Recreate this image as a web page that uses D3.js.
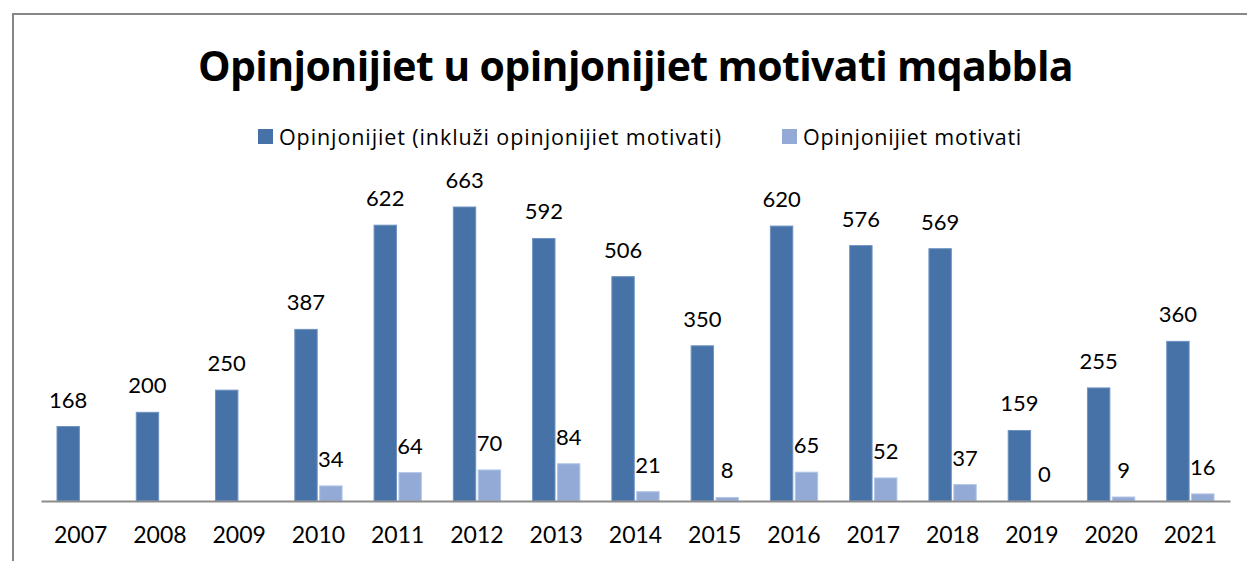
<!DOCTYPE html>
<html>
<head>
<meta charset="utf-8">
<script src="https://cdn.jsdelivr.net/npm/d3@7"></script>
<style>
  body { margin: 0; background: #fff; }
  text { font-family: Lato, "Open Sans", sans-serif; fill: #000; }
</style>
</head>
<body>
<div id="chart"></div>
<script>

// data
var years = ['2007','2008','2009','2010','2011','2012','2013','2014','2015','2016','2017','2018','2019','2020','2021'];
var opinjonijiet = [168, 200, 250, 387, 622, 663, 592, 506, 350, 620, 576, 569, 159, 255, 360];
var motivati = [null, null, null, 34, 64, 70, 84, 21, 8, 65, 52, 37, 0, 9, 16];
var seriesNames = ['Opinjonijiet (inkluži opinjonijiet motivati)', 'Opinjonijiet motivati'];
var seriesColors = ['#4672a8', '#94aad6'];
var edgeColors = ['#6f93c2', '#b3c6e6'];
var title = 'Opinjonijiet u opinjonijiet motivati mqabbla';

var svgWidth = 1247;
var svgHeight = 561;

var svg = d3.select('#chart')
            .append('svg')
            .attr('width', svgWidth)
            .attr('height', svgHeight);

// stretch letter spacing so a text ends up about as wide as in the picture
function fitWidth(sel, target) {
    sel.each(function () {
        var node = this;
        var w = node.getComputedTextLength();
        var n = node.textContent.length;
        d3.select(node).style('letter-spacing', ((target - w) / n) + 'px');
    });
}

// outer frame of the chart area (runs off the right and bottom)
svg.append('rect')
   .attr('x', 13)
   .attr('y', 14)
   .attr('width', 1260)
   .attr('height', 600)
   .attr('fill', 'none')
   .attr('stroke', '#878787')
   .attr('stroke-width', 2);

// scales
var x = d3.scaleBand()
          .domain(years)
          .range([41, 1230])
          .paddingInner(0)
          .paddingOuter(0);

var y = d3.scaleLinear()
          .domain([0, 700])
          .range([501, 190.6]);

var groupInner = d3.scaleBand()
          .domain([0, 1])
          .range([16, x.bandwidth() - 16])
          .paddingInner(0.1);

// rows for every bar
var rows = [];
years.forEach(function (yr, i) {
    rows.push({year: yr, s: 0, v: opinjonijiet[i]});
    rows.push({year: yr, s: 1, v: motivati[i]});
});
rows = rows.filter(function (d) { return d.v !== null; });

svg.selectAll('rect.bar')
   .data(rows)
   .enter()
   .append('rect')
   .attr('class', 'bar')
   .attr('x', function (d) { return x(d.year) + groupInner(d.s); })
   .attr('y', function (d) { return y(d.v); })
   .attr('width', groupInner.bandwidth())
   .attr('height', function (d) { return y(0) - y(d.v); })
   .attr('fill', function (d) { return seriesColors[d.s]; })
   .attr('stroke', function (d) { return d.v > 0 ? edgeColors[d.s] : 'none'; })
   .attr('stroke-width', 1);

// value labels
svg.selectAll('text.val')
   .data(rows)
   .enter()
   .append('text')
   .attr('class', 'val')
   .attr('x', function (d) { return x(d.year) + groupInner(d.s) + groupInner.bandwidth() / 2; })
   .attr('y', function (d) { return y(d.v) - 19; })
   .attr('text-anchor', 'middle')
   .style('font-size', '22px')
   .text(function (d) { return d.v; });

// x axis
var xAxis = d3.axisBottom(x).tickSize(0).tickPadding(0);
var gx = svg.append('g')
            .attr('transform', 'translate(0,' + y(0) + ')')
            .call(xAxis);
gx.select('.domain')
  .attr('stroke', '#8c8c8c')
  .attr('stroke-width', 2);
gx.selectAll('.tick text')
  .attr('y', 42)
  .attr('dy', 0)
  .style('font-size', '23px')
  .style('font-family', 'Lato, sans-serif')
  .attr('fill', '#000');

// title
svg.append('text')
   .attr('x', 198)
   .attr('y', 81)
   .style('font-family', '"Open Sans", sans-serif')
   .style('font-size', '41px')
   .style('font-weight', 'bold')
   .text(title)
   .call(fitWidth, 875);

// legend
var legendX = [258, 782];
var legendW = [443, 219];
var legend = svg.selectAll('g.legend')
                .data(seriesNames)
                .enter()
                .append('g')
                .attr('class', 'legend')
                .attr('transform', function (d, i) { return 'translate(' + legendX[i] + ',129)'; });
legend.append('rect')
      .attr('width', 15)
      .attr('height', 15)
      .attr('fill', function (d, i) { return seriesColors[i]; });
legend.append('text')
      .attr('x', 21)
      .attr('y', 16)
      .style('font-family', '"Open Sans", sans-serif')
      .style('font-size', '21.5px')
      .text(function (d) { return d; })
      .each(function (d, i) { d3.select(this).call(fitWidth, legendW[i]); });

</script>
</body>
</html>
